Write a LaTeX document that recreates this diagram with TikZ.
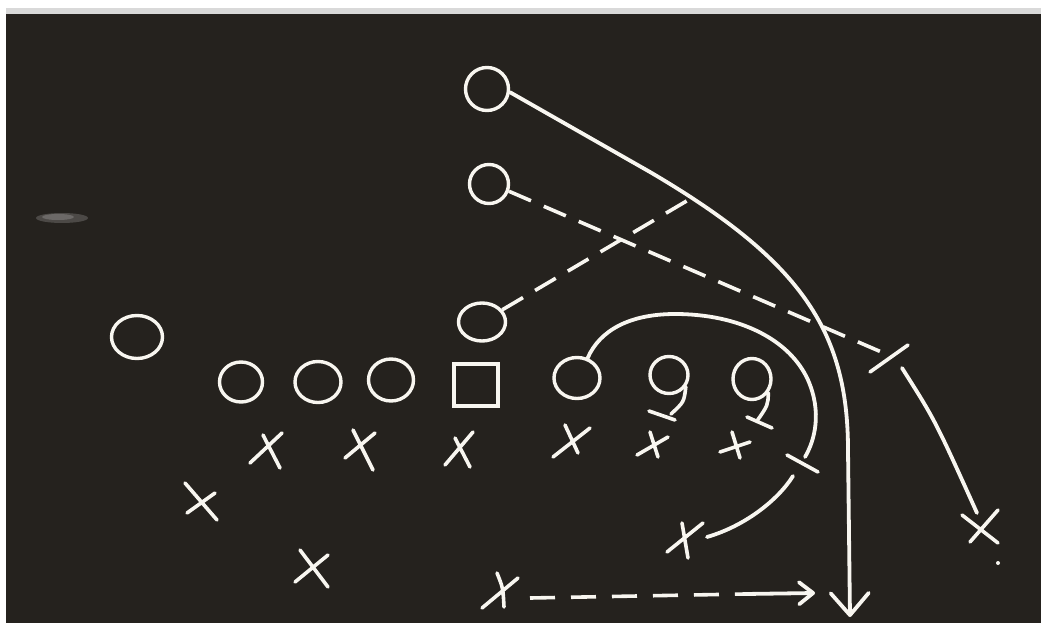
\documentclass[tikz,border=0pt]{standalone}
\usetikzlibrary{shapes.geometric,arrows.meta}
\definecolor{board}{RGB}{37,34,30}
\definecolor{chalk}{RGB}{248,246,240}
\begin{document}
\begin{tikzpicture}[x=1pt,y=-1pt,
  player/.style={ellipse,draw=chalk,line width=3.4pt,inner sep=0pt},
  centerbox/.style={rectangle,draw=chalk,line width=3.4pt,inner sep=0pt,minimum width=44pt,minimum height=42pt},
  xstroke/.style={draw=chalk,line width=3.6pt,line cap=round},
  route/.style={draw=chalk,line width=3.8pt,line cap=round},
  dashroute/.style={draw=chalk,line width=3.6pt,dash pattern=on 24pt off 14pt},
  blockbar/.style={draw=chalk,line width=3.6pt,line cap=round},
  bigtip/.style={-{Straight Barb[length=22pt,width=38pt,round]}},
  smalltip/.style={-{Straight Barb[length=14pt,width=22pt,round]}}
]
\useasboundingbox (0,0) rectangle (1041,623);
\fill[white] (0,0) rectangle (1041,623);
\fill[board] (6,14) rectangle (1041,623);
\fill[black!15] (6,8) rectangle (1041,14);
\fill[white, opacity=0.18] (62,218) ellipse (26pt and 5pt);
\fill[white, opacity=0.18] (58,217) ellipse (16pt and 3pt);
\fill[chalk] (998,563) circle (2pt);

% offense
\node[player,minimum width=43pt,minimum height=43pt] (wr1) at (487,89) {};
\node[player,minimum width=39pt,minimum height=39pt] (wr2) at (489,184) {};
\node[player,minimum width=47pt,minimum height=38pt] (wr3) at (482,322) {};
\node[player,minimum width=51pt,minimum height=43pt] (lb) at (137,337) {};
\node[player,minimum width=43pt,minimum height=40pt] (g1) at (241,382) {};
\node[player,minimum width=46pt,minimum height=41pt] (g2) at (318,382) {};
\node[player,minimum width=45pt,minimum height=42pt] (g3) at (391,380) {};
\node[centerbox] (c) at (476,385) {};
\node[player,minimum width=46pt,minimum height=41pt] (t1) at (577,378) {};
\node[player,minimum width=38pt,minimum height=37pt] (e1) at (669,375) {};
\node[player,minimum width=38pt,minimum height=41pt] (e2) at (752,379) {};

% blocking tails on the two ends
\draw[blockbar] (e1.-35) .. controls (684,402) .. (671,414);
\draw[blockbar] (649,411) -- (675,420);
\draw[blockbar] (e2.-40) .. controls (768,405) .. (757,421);
\draw[blockbar] (747,417) -- (772,428);

% defense
\coordinate (d1) at (267,451);
\draw[xstroke] (250,463) -- (282,433) (263,435) -- (280,468);
\coordinate (d2) at (361,450);
\draw[xstroke] (345,458) -- (375,433) (353,430) -- (373,470);
\coordinate (d3) at (460,450);
\draw[xstroke] (445,465) -- (473,432) (455,438) -- (470,467);
\coordinate (d4) at (201,502);
\draw[xstroke] (185,483) -- (217,520) (187,513) -- (215,493);
\coordinate (d5) at (312,568);
\draw[xstroke] (300,550) -- (328,587) (295,582) -- (328,555);
\coordinate (d6) at (571,441);
\draw[xstroke] (553,457) -- (590,428) (565,425) -- (578,453);
\coordinate (d7) at (653,445);
\draw[xstroke] (637,455) -- (668,437) (650,432) -- (658,457);
\coordinate (d8) at (736,445);
\draw[xstroke] (720,452) -- (750,442) (732,432) -- (740,458);
\coordinate (d9) at (683,540);
\draw[xstroke] (667,552) -- (703,523) (682,523) -- (688,558);
\coordinate (d10) at (982,527);
\draw[xstroke] (962,515) -- (998,543) (970,542) -- (998,510);
\coordinate (d11) at (500,592);
\draw[xstroke] (482,608) -- (518,578) (497,573) .. controls (503,588) .. (504,607);

% route 1: deep receiver
\coordinate (r1bend) at (650,172);
\coordinate (r1end) at (850,617);
\draw[route,bigtip] (wr1.-8) -- (r1bend) .. controls (800,260) and (848,330) .. (848,450) -- (r1end);

% route 2: dashed to block, then to defender
\coordinate (b2) at (886,354);
\draw[dashroute] (wr2.-20) -- (b2);
\draw[blockbar] (870,372) -- (908,345);
\draw[route] (902,368) .. controls (935,420) .. ([shift={(-5,-14)}]d10);

% route 3: dashed up to route 1
\coordinate (j3) at (690,199);
\draw[dashroute] (wr3.31) -- (j3);

% route 4: big arc from tackle
\coordinate (b4) at (805,457);
\draw[route] (t1.62) .. controls (600,330) and (630,314) .. (675,314)
  .. controls (740,314) and (790,340) .. (808,380)
  .. controls (822,412) and (815,440) .. (b4);
\draw[blockbar] (787,455) -- (818,472);
\draw[route] (793,476) .. controls (778,500) and (745,526) .. ([shift={(24,-3)}]d9);

% route 5: dashed motion with arrow
\coordinate (a5) at (745,594);
\coordinate (a5end) at (815,593);
\draw[draw=chalk,line width=3.6pt,dash pattern=on 25pt off 16pt] ([shift={(30,6)}]d11) -- (a5);
\draw[route,smalltip] (a5) -- (a5end);
\end{tikzpicture}
\end{document}
